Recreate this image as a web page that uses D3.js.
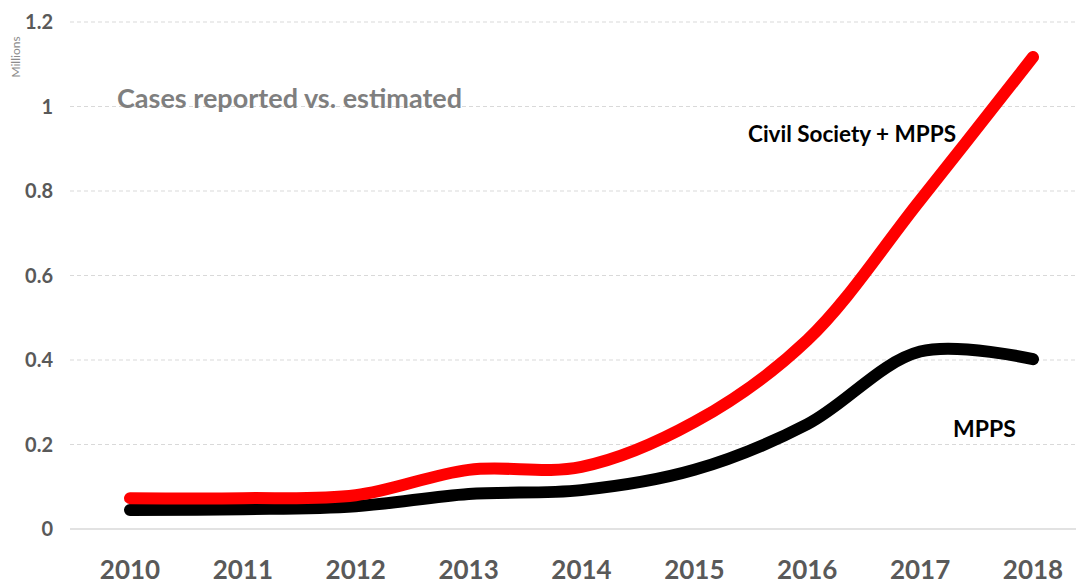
<!DOCTYPE html>
<html>
<head>
<meta charset="utf-8">
<script src="https://cdn.jsdelivr.net/npm/d3@7"></script>
<style>
  body { margin: 0; background: #fff; }
  text { font-family: Lato, "Open Sans", sans-serif; }
</style>
</head>
<body>
<svg width="1076" height="586"></svg>
<script>
var years = [2010, 2011, 2012, 2013, 2014, 2015, 2016, 2017, 2018];
var civilSociety = [0.073, 0.073, 0.080, 0.140, 0.147, 0.253, 0.447, 0.778, 1.117];
var mpps = [0.045, 0.047, 0.054, 0.083, 0.092, 0.140, 0.248, 0.420, 0.402];
var yTicks = [0, 0.2, 0.4, 0.6, 0.8, 1, 1.2];

var svg = d3.select("svg");

var x = d3.scaleLinear().domain([2010, 2018]).range([130, 1033]);
var y = d3.scaleLinear().domain([0, 1.2]).range([529, 22]);

// gridlines
svg.selectAll(".grid")
    .data(yTicks)
    .enter().append("line")
    .attr("x1", 70).attr("x2", 1076)
    .attr("y1", function (d) { return y(d); })
    .attr("y2", function (d) { return y(d); })
    .attr("stroke", "#d9d9d9")
    .attr("stroke-width", function (d) { return d === 0 ? 1.5 : 1; })
    .attr("stroke-dasharray", function (d) { return d === 0 ? null : "4,3"; });

// y labels
svg.selectAll(".ylab")
    .data(yTicks)
    .enter().append("text")
    .attr("x", 53)
    .attr("y", function (d) { return y(d) + 7; })
    .attr("text-anchor", "end")
    .attr("font-size", 20)
    .attr("font-weight", "bold")
    .attr("fill", "#595959")
    .text(function (d) { return d; });

// x labels
svg.selectAll(".xlab")
    .data(years)
    .enter().append("text")
    .attr("x", function (d) { return x(d); })
    .attr("y", 579)
    .attr("text-anchor", "middle")
    .attr("font-size", 26)
    .attr("font-weight", "bold")
    .attr("fill", "#595959")
    .text(function (d) { return d; });

svg.append("text")
    .attr("transform", "translate(20,57) rotate(-90)")
    .attr("text-anchor", "middle")
    .attr("font-size", 12)
    .attr("fill", "#8c8c8c")
    .text("Millions");

svg.append("text")
    .attr("x", 117).attr("y", 108)
    .attr("font-size", 27)
    .attr("font-weight", "bold")
    .attr("fill", "#7f7f7f")
    .text("Cases reported vs. estimated");

var line = d3.line()
    .x(function (d, i) { return x(years[i]); })
    .y(function (d) { return y(d); })
    .curve(d3.curveCatmullRom.alpha(0.5));

svg.append("path")
    .attr("d", line(mpps))
    .attr("fill", "none")
    .attr("stroke", "#000")
    .attr("stroke-width", 12)
    .attr("stroke-linecap", "round");

svg.append("path")
    .attr("d", line(civilSociety))
    .attr("fill", "none")
    .attr("stroke", "#ff0000")
    .attr("stroke-width", 12)
    .attr("stroke-linecap", "round");

svg.append("text")
    .attr("x", 748).attr("y", 142)
    .attr("font-size", 22.5)
    .attr("font-weight", "bold")
    .attr("fill", "#000")
    .text("Civil Society + MPPS");

svg.append("text")
    .attr("x", 953).attr("y", 437)
    .attr("font-size", 23)
    .attr("font-weight", "bold")
    .attr("fill", "#000")
    .text("MPPS");
</script>
</body>
</html>
